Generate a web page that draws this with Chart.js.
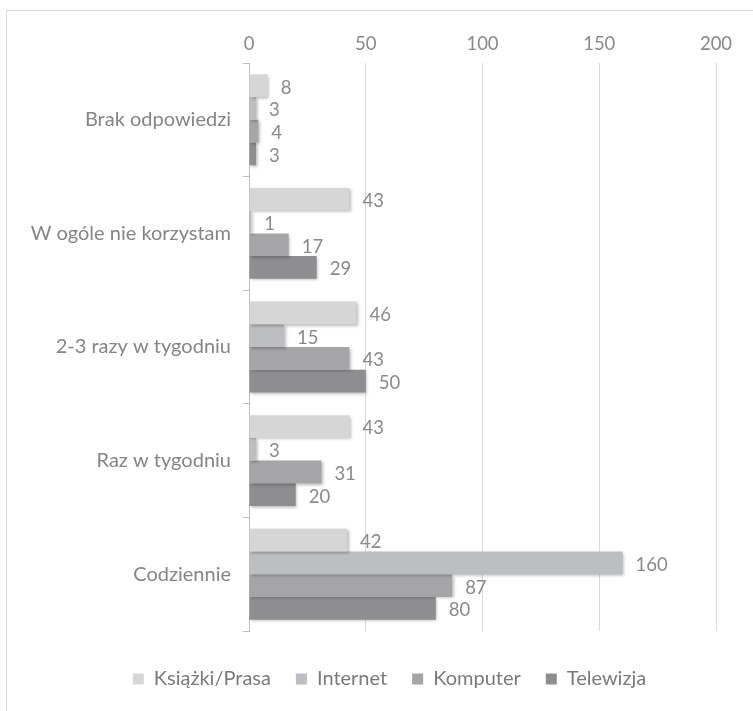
<!DOCTYPE html>
<html><head><meta charset="utf-8">
<script src="https://cdn.jsdelivr.net/npm/chart.js@4/dist/chart.umd.min.js"></script>
<style>html,body{margin:0;padding:0;background:#fff;}#wrap{width:753px;height:711px;position:relative;}</style>
</head><body><div id="wrap"><canvas id="c" width="753" height="711"></canvas></div>
<script>
const categories = ["Brak odpowiedzi", "W ogóle nie korzystam", "2-3 razy w tygodniu", "Raz w tygodniu", "Codziennie"];
const seriesNames = ["Książki/Prasa", "Internet", "Komputer", "Telewizja"];
const ksiazki = [8, 43, 46, 43, 42];
const internet = [3, 1, 15, 3, 160];
const komputer = [4, 17, 43, 31, 87];
const telewizja = [3, 29, 50, 20, 80];
const xTicks = [0, 50, 100, 150, 200];
const colors = ["#d6d6d7", "#bdbec1", "#a5a5a8", "#8e8e91"];

const FONT = "Lato, 'Open Sans', sans-serif";

const frame = {
  id: 'frame',
  beforeDraw(chart) {
    const ctx = chart.ctx;
    ctx.save();
    ctx.strokeStyle = '#d9d9d9';
    ctx.lineWidth = 1;
    ctx.strokeRect(6.5, 10.5, 780, 760);
    ctx.restore();
  }
};
const shadow = {
  id: 'shadow',
  beforeDatasetDraw(chart) {
    const ctx = chart.ctx;
    ctx.save();
    ctx.shadowColor = 'rgba(0,0,0,0.28)';
    ctx.shadowBlur = 3;
    ctx.shadowOffsetX = 1.5;
    ctx.shadowOffsetY = 1.5;
  },
  afterDatasetDraw(chart) { chart.ctx.restore(); }
};
const labels = {
  id: 'labels',
  afterDatasetsDraw(chart) {
    const ctx = chart.ctx;
    ctx.save();
    ctx.font = "18.5px " + FONT;
    ctx.fillStyle = '#8a8a8a';
    ctx.textAlign = 'left';
    ctx.textBaseline = 'middle';
    chart.data.datasets.forEach((ds, i) => {
      const meta = chart.getDatasetMeta(i);
      meta.data.forEach((bar, j) => {
        ctx.fillText(String(ds.data[j]), bar.x + 13, bar.y + 2);
      });
    });
    ctx.restore();
  }
};

new Chart(document.getElementById('c'), {
  type: 'bar',
  data: {
    labels: categories,
    datasets: [ksiazki, internet, komputer, telewizja].map((d, i) => ({
      label: seriesNames[i], data: d, backgroundColor: colors[i], borderWidth: 0,
      categoryPercentage: 0.8, barPercentage: 1.0
    }))
  },
  options: {
    indexAxis: 'y',
    responsive: false,
    animation: false,
    devicePixelRatio: 1,
    layout: { padding: { left: 26, right: 0, top: 0, bottom: 12 } },
    scales: {
      x: {
        position: 'top', min: 0, max: 200,
        afterBuildTicks(s) { s.ticks = xTicks.map(v => ({ value: v })); },
        afterFit(s) { s.height = 63; },
        ticks: { color: '#8a8a8a', font: { size: 18.5, family: FONT }, padding: 8 },
        grid: { color: '#d9d9d9', drawTicks: false },
        border: { display: false }
      },
      x2: {
        position: 'bottom', axis: 'x', display: true,
        afterFit(s) { s.height = 13; },
        ticks: { display: false }, grid: { display: false, drawTicks: false }, border: { display: false }
      },
      y: {
        afterFit(s) { s.width = 223; },
        ticks: { color: '#858585', font: { size: 20, family: FONT }, padding: 12 },
        grid: { offset: true, drawOnChartArea: false, drawTicks: true, tickLength: 6, color: '#bfbfbf' },
        border: { display: true, color: '#bfbfbf' }
      },
      y2: {
        type: 'linear', position: 'right', axis: 'y', display: true,
        afterFit(s) { s.width = 37; },
        ticks: { display: false }, grid: { display: false, drawTicks: false }, border: { display: false }
      }
    },
    plugins: {
      legend: {
        position: 'bottom',
        labels: { color: '#7a7a7a', font: { size: 20, family: FONT }, boxWidth: 11, boxHeight: 11, padding: 25 }
      },
      tooltip: { enabled: false }
    }
  },
  plugins: [frame, shadow, labels]
});
</script></body></html>
